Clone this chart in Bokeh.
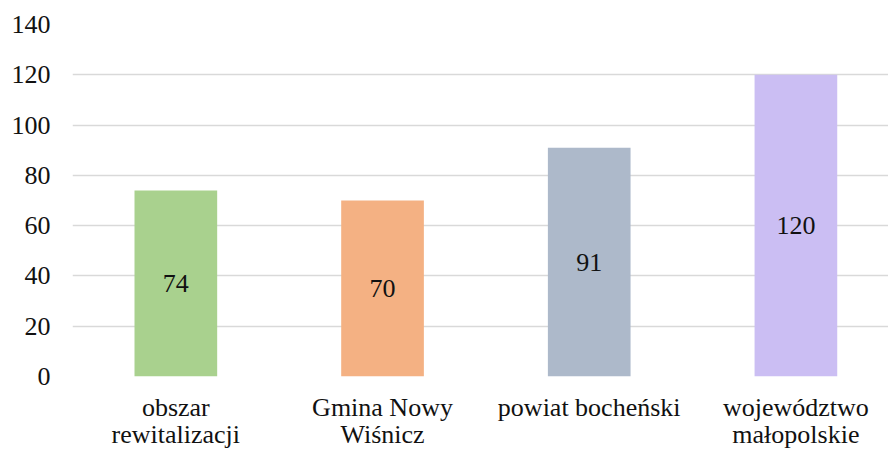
from bokeh.plotting import figure
from bokeh.models import ColumnDataSource, Range1d, FixedTicker
from bokeh.core.properties import value
from bokeh.embed import file_html
from bokeh.resources import INLINE

categories = ["obszar\nrewitalizacji", "Gmina Nowy\nWiśnicz", "powiat bocheński", "województwo\nmałopolskie"]
values = [74, 70, 91, 120]
colors = ["#a9d18e", "#f4b183", "#adb9ca", "#cbbef3"]
y_ticks = [0, 20, 40, 60, 80, 100, 120, 140]

FONT = "Liberation Serif"

xs = list(range(len(categories)))
src = ColumnDataSource(dict(
    x=xs,
    top=values,
    mid=[v / 2 for v in values],
    lab=[str(v) for v in values],
    color=colors,
))

p = figure(width=888, height=452, output_backend="svg", toolbar_location=None,
           x_range=Range1d(-0.5, 3.448), y_range=Range1d(0, 140),
           min_border_left=72, min_border_right=0, min_border_top=24, min_border_bottom=74)
p.outline_line_color = None
p.background_fill_color = "white"

p.vbar(x="x", top="top", width=0.40, color="color", source=src, line_color=None)
p.text(x="x", y="mid", text="lab", source=src, text_align="center", text_baseline="middle",
       text_font=value(FONT), text_font_size="26px", text_color="#111111")

p.xgrid.grid_line_color = None
p.ygrid.grid_line_color = "#d9d9d9"
p.ygrid.grid_line_width = 1.5
p.ygrid.ticker = FixedTicker(ticks=y_ticks)

p.yaxis.ticker = FixedTicker(ticks=y_ticks)
p.yaxis.axis_line_color = None
p.yaxis.major_tick_line_color = None
p.yaxis.minor_tick_line_color = None
p.yaxis.major_tick_out = 0
p.yaxis.major_label_standoff = 22
p.yaxis.major_label_text_font = FONT
p.yaxis.major_label_text_font_size = "26px"
p.yaxis.major_label_text_color = "#111111"

p.xaxis.ticker = FixedTicker(ticks=xs)
p.xaxis.major_label_overrides = {i: c for i, c in zip(xs, categories)}
p.xaxis.axis_line_color = None
p.xaxis.major_tick_line_color = None
p.xaxis.minor_tick_line_color = None
p.xaxis.major_tick_out = 0
p.xaxis.major_label_standoff = 16
p.xaxis.major_label_text_font = FONT
p.xaxis.major_label_text_font_size = "26px"
p.xaxis.major_label_text_color = "#111111"
p.xaxis.major_label_text_line_height = 0.95

open("out.html", "w").write(file_html(p, INLINE))
